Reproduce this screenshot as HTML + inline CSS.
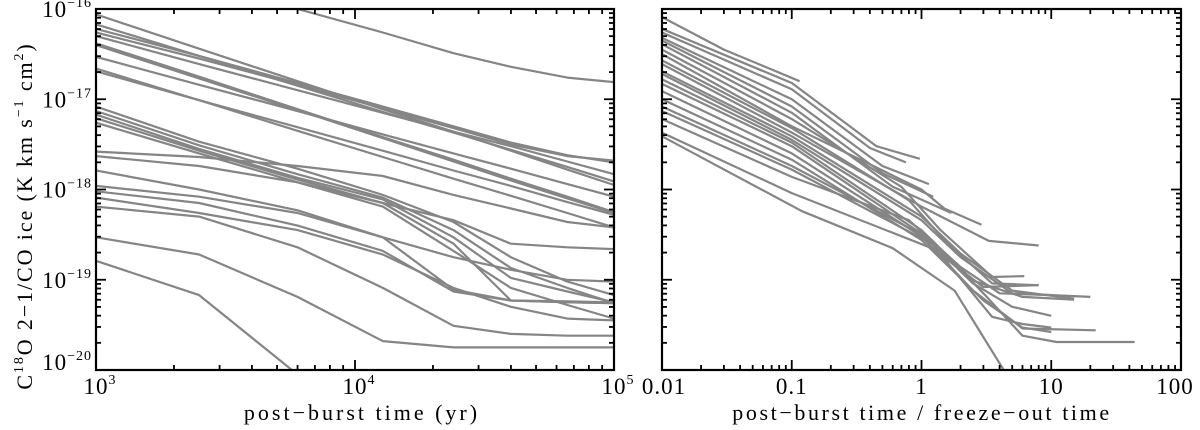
<!DOCTYPE html>
<html><head><meta charset="utf-8"><style>
html,body{margin:0;padding:0;background:#fff;}
svg{display:block;font-family:"Liberation Serif",serif;}
</style></head><body>
<svg id="chart" width="1200" height="430" viewBox="0 0 1200 430" xmlns="http://www.w3.org/2000/svg">
<rect width="1200" height="430" fill="#fff"/>
<g id="left"></g>
<g id="right"></g>
<text transform="translate(32,216) rotate(-90)" text-anchor="middle" font-size="22" letter-spacing="1.9">C<tspan font-size="14" dy="-9">18</tspan><tspan dy="9">O 2−1/CO ice (K km s</tspan><tspan font-size="14" dy="-9">−1</tspan><tspan dy="9"> cm</tspan><tspan font-size="14" dy="-9">2</tspan><tspan dy="9">)</tspan></text>
<text x="362" y="420" text-anchor="middle" font-size="22" letter-spacing="3">post−burst time (yr)</text>
<text x="922" y="420" text-anchor="middle" font-size="22" letter-spacing="2.6">post−burst time / freeze−out time</text>
</svg>
<script>
// ---- data ----
const leftTimes = [1000,2500,6000,12800,24000,40000,66000,100000];
const leftSeries = [
 [null,null,-16.0,-16.26,-16.49,-16.64,-16.76,-16.81],
 [-16.06,-16.44,-16.80,-17.11,-17.36,-17.57,-17.78,-17.95],
 [-16.17,-16.52,-16.85,-17.14,-17.37,-17.56,-17.75,-17.91],
 [-16.22,-16.52,-16.82,-17.08,-17.30,-17.48,-17.62,-17.70],
 [-16.26,-16.55,-16.84,-17.10,-17.32,-17.50,-17.63,-17.68],
 [-16.30,-16.61,-16.90,-17.15,-17.36,-17.52,-17.69,-17.83],
 [-16.38,-16.75,-17.11,-17.42,-17.67,-17.88,-18.08,-18.25],
 [-16.40,-16.77,-17.12,-17.43,-17.69,-17.90,-18.10,-18.26],
 [-16.53,-16.84,-17.13,-17.39,-17.60,-17.77,-17.94,-18.08],
 [-16.66,-17.01,-17.35,-17.64,-17.88,-18.07,-18.26,-18.42],
 [-16.69,-17.01,-17.31,-17.57,-17.79,-17.96,-18.14,-18.28],
 [-17.08,-17.47,-17.77,-18.06,-18.36,-18.75,-19.02,-19.17],
 [-17.13,-17.51,-17.83,-18.09,-18.45,-18.87,-19.09,-19.26],
 [-17.17,-17.55,-17.87,-18.11,-18.53,-18.98,-19.13,-19.25],
 [-17.21,-17.57,-17.89,-18.15,-18.60,-19.23,-19.25,-19.26],
 [-17.26,-17.60,-17.92,-18.19,-18.68,-19.09,-19.28,-19.43],
 [-17.58,-17.64,-17.74,-17.85,-18.06,-18.21,-18.36,-18.42],
 [-17.63,-17.74,-17.92,-18.15,-18.34,-18.60,-18.64,-18.66],
 [-17.79,-18.00,-18.23,-18.53,-18.75,-18.89,-19.00,-19.02],
 [-17.96,-18.08,-18.26,-18.53,-19.11,-19.23,-19.24,-19.25],
 [-18.02,-18.15,-18.40,-18.68,-19.13,-19.23,-19.25,-19.26],
 [-18.09,-18.26,-18.45,-18.72,-19.09,-19.30,-19.43,-19.45],
 [-18.19,-18.30,-18.64,-19.09,-19.51,-19.60,-19.62,-19.62],
 [-18.53,-18.72,-19.19,-19.68,-19.75,-19.75,-19.75,-19.75],
 [-18.79,-19.17,-20.05,null,null,null,null,null]
];
const rightX = [
 [0.01,0.03,0.06,0.115],
 [0.01,0.1,0.45,0.97],
 [0.01,0.1,0.4,0.76],
 [0.01,0.1,0.5,1.14],
 [0.01,0.1,0.5,1.23],
 [0.01,0.1,0.6,1.7],
 [0.01,0.1,0.7,1.4,3.5,6.2],
 [0.01,0.1,1,1.5,2.9],
 [0.01,0.1,0.8,1.5,3.5,8],
 [0.01,0.1,1,3.3,8],
 [0.01,0.1,1,2,5,15],
 [0.01,0.1,1,2,5,20],
 [0.01,0.1,1,2.5,6,15],
 [0.01,0.1,1,2.5,5,10],
 [0.01,0.1,1,2.5,6,22],
 [0.01,0.1,1,3,6,10],
 [0.01,0.1,1.2,3,6,11,44],
 [0.01,0.1,1.2,3.5,6,10],
 [0.01,0.1,0.8,2,4,10],
 [0.01,0.1,1.2,3,8],
 [0.01,0.12,0.6,1.8,4.3]
];
const rightY = [
 [-16.09,-16.45,-16.63,-16.80],
 [-16.22,-16.82,-17.52,-17.66],
 [-16.26,-16.89,-17.54,-17.70],
 [-16.32,-17.00,-17.74,-17.94],
 [-16.35,-17.08,-17.82,-18.08],
 [-16.39,-17.15,-17.97,-18.26],
 [-16.45,-17.22,-17.97,-18.45,-18.97,-18.96],
 [-16.50,-17.30,-18.00,-18.21,-18.39],
 [-16.57,-17.32,-18.12,-18.56,-19.04,-19.06],
 [-16.61,-17.37,-18.19,-18.57,-18.62],
 [-16.69,-17.41,-18.30,-18.71,-19.12,-19.21],
 [-16.72,-17.45,-18.34,-18.75,-19.15,-19.19],
 [-16.78,-17.48,-18.45,-19.01,-19.19,-19.22],
 [-16.83,-17.52,-18.49,-19.04,-19.30,-19.40],
 [-16.91,-17.60,-18.52,-19.12,-19.54,-19.56],
 [-17.00,-17.67,-18.56,-19.23,-19.53,-19.58],
 [-17.08,-17.74,-18.56,-19.15,-19.62,-19.69,-19.69],
 [-17.13,-17.78,-18.60,-19.41,-19.49,-19.53],
 [-17.22,-17.86,-18.34,-18.86,-19.15,-19.17],
 [-17.37,-18.04,-18.65,-19.08,-19.06],
 [-17.41,-18.24,-18.65,-19.12,-20.0]
];
const leftXTicks = ["10","10","10"], leftXExp = ["3","4","5"];
const yExp = ["−16","−17","−18","−19","−20"];
const rightXTicks = ["0.01","0.1","1","10","100"];

// ---- geometry ----
const T=9,B=370;
const yScale = v => T + (-16 - v) / 4 * (B - T);
const LP = {l:96,r:614,lo:3,hi:5};
const RP = {l:662,r:1181,lo:-2,hi:2};
const xs = (p,x) => p.l + (Math.log10(x) - p.lo) / (p.hi - p.lo) * (p.r - p.l);
const NS="http://www.w3.org/2000/svg";
function mk(tag,attrs,parent){const e=document.createElementNS(NS,tag);for(const k in attrs)e.setAttribute(k,attrs[k]);parent.appendChild(e);return e;}

function defClip(id,p){
 let d=document.querySelector('defs')||mk('defs',{},document.getElementById('chart'));
 const c=mk('clipPath',{id:id},d);
 mk('rect',{x:p.l,y:T,width:p.r-p.l,height:B-T},c);
}
function axes(g,p,name){
 const fr=mk('rect',{x:p.l,y:T,width:p.r-p.l,height:B-T,fill:'none',stroke:'#000','stroke-width':2.2},g);
 
 
 for(let d=p.lo;d<=p.hi;d++){
  for(let m=1;m<=9;m++){
   if(d===p.hi&&m>1)break;
   const x=p.l+(d+Math.log10(m)-p.lo)/(p.hi-p.lo)*(p.r-p.l);
   const len=m===1?10:5;
   mk('line',{x1:x,x2:x,y1:B,y2:B-len,stroke:'#000','stroke-width':1.8},g);
   mk('line',{x1:x,x2:x,y1:T,y2:T+len,stroke:'#000','stroke-width':1.8},g);
  }
 }
 for(let d=-20;d<=-16;d++){
  for(let m=1;m<=9;m++){
   if(d===-16&&m>1)break;
   const y=yScale(d+Math.log10(m));
   const len=m===1?10:5;
   mk('line',{x1:p.l,x2:p.l+len,y1:y,y2:y,stroke:'#000','stroke-width':1.8},g);
   mk('line',{x1:p.r,x2:p.r-len,y1:y,y2:y,stroke:'#000','stroke-width':1.8},g);
  }
 }
}

const gl=document.getElementById('left'), gr=document.getElementById('right');
defClip('cl',LP); defClip('cr',RP);
const ll=mk('g',{'clip-path':'url(#cl)'},gl);
leftSeries.forEach((s,i)=>{
 const pts=[];
 s.forEach((v,j)=>{ if(v!==null) pts.push(xs(LP,leftTimes[j]).toFixed(1)+','+yScale(v).toFixed(1)); });
 const pl=mk('polyline',{points:pts.join(' '),fill:'none',stroke:'#858585','stroke-width':2.2,'stroke-linejoin':'round'},ll);
 
 
});
const rl=mk('g',{'clip-path':'url(#cr)'},gr);
rightX.forEach((xsArr,i)=>{
 const pts=xsArr.map((x,j)=>xs(RP,x).toFixed(1)+','+yScale(rightY[i][j]).toFixed(1));
 const pl=mk('polyline',{points:pts.join(' '),fill:'none',stroke:'#858585','stroke-width':2.2,'stroke-linejoin':'round'},rl);
 
 
});
axes(gl,LP,'left'); axes(gr,RP,'right');

leftXTicks.forEach((t,i)=>{
 const x=xs(LP,Math.pow(10,LP.lo+i));
 const tx=mk('text',{x:x+4,y:394,'text-anchor':'middle','font-size':23,'letter-spacing':1},gl);
 
 
 tx.textContent=t;
 const sp=mk('tspan',{'font-size':14,dy:-10},tx); sp.textContent=leftXExp[i];
});
yExp.forEach((e,i)=>{
 const y=yScale(-16-i);
 const tx=mk('text',{x:92,y:y+(i===4?0:8),'text-anchor':'end','font-size':23,'letter-spacing':1},gl);
 
 
 tx.textContent='10';
 const sp=mk('tspan',{'font-size':14,dy:-10},tx); sp.textContent=e;
});
rightXTicks.forEach((t,i)=>{
 const x=xs(RP,Math.pow(10,RP.lo+i));
 const tx=mk('text',{x:i===4?x-6:(i===0?x+2:x),y:394,'text-anchor':'middle','font-size':23,'letter-spacing':1},gr);
 
 
 tx.textContent=t;
});
</script>
</body></html>
